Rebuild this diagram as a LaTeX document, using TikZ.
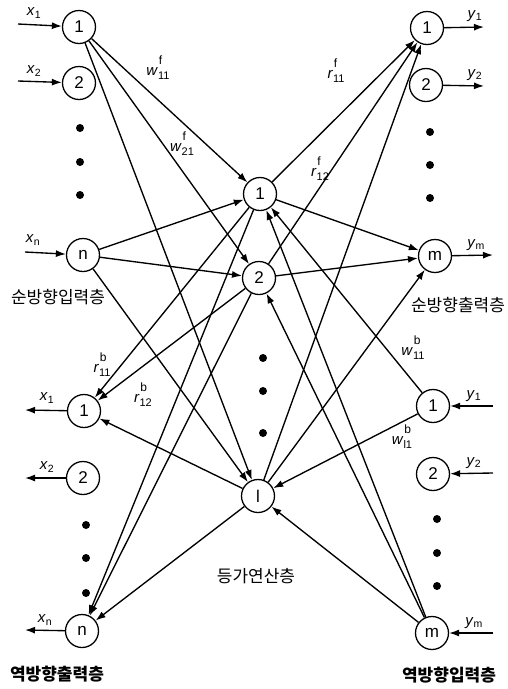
\documentclass[tikz,border=0pt]{standalone}
\usepackage{fontspec}
\setmainfont{Liberation Sans}
\newfontfamily\krfont{Noto Sans CJK KR}
\usetikzlibrary{arrows.meta}
\newcommand\wlab[3]{\textit{#1}\rlap{\raisebox{-0.5ex}{\fontsize{11}{11}\selectfont #2}}\rlap{\raisebox{1.4ex}{\fontsize{12}{12}\selectfont\hspace{0.8pt}#3}}\phantom{\fontsize{11}{11}\selectfont #2}}
\begin{document}
\begin{tikzpicture}[x=1pt,y=-1pt,
  neuron/.style={circle,draw,line width=1.3pt,minimum size=33pt,inner sep=0pt,font=\fontsize{17}{17}\selectfont},
  conn/.style={line width=1.35pt,-{Latex[length=10pt,width=7pt]}},
  iolink/.style={line width=1.35pt,-{Latex[length=10pt,width=7pt]}},
  bigdot/.style={circle,fill,inner sep=0pt,minimum size=8pt},
  varlab/.style={font=\fontsize{15}{15}\selectfont,inner sep=0pt},
  wlabel/.style={font=\fontsize{15}{15}\selectfont,inner sep=0pt},
  layertitle/.style={font=\krfont\fontsize{17}{18}\selectfont,inner sep=0pt},
  boldtitle/.style={font=\krfont\bfseries\fontsize{17}{18}\selectfont,inner sep=0pt}]
\useasboundingbox (0,0) rectangle (507,689);
% forward input layer
\node[neuron] (F1) at (79,27) {1};
\node[neuron] (F2) at (79,83) {2};
\node[neuron] (Fn) at (83,255) {n};
\node[bigdot] (fd1) at (80,128) {};
\node[bigdot] (fd2) at (80,162) {};
\node[bigdot] (fd3) at (80,195) {};
% backward output layer
\node[neuron] (B1) at (84,411) {1};
\node[neuron] (B2) at (83,478) {2};
\node[neuron] (Bn) at (82,631) {n};
\node[bigdot] (bd1) at (86,525) {};
\node[bigdot] (bd2) at (86,558) {};
\node[bigdot] (bd3) at (86,593) {};
% middle layer
\node[neuron] (M1) at (260,194) {1};
\node[neuron] (M2) at (259,278) {2};
\node[neuron] (Ml) at (258,496) {l};
\node[bigdot] (md1) at (263,358) {};
\node[bigdot] (md2) at (263,391) {};
\node[bigdot] (md3) at (263,433) {};
% forward output layer
\node[neuron] (O1) at (427,28) {1};
\node[neuron] (O2) at (426,85) {2};
\node[neuron] (Om) at (435,256) {m};
\node[bigdot] (od1) at (430,132) {};
\node[bigdot] (od2) at (430,165) {};
\node[bigdot] (od3) at (430,198) {};
% backward input layer
\node[neuron] (R1) at (433,406) {1};
\node[neuron] (R2) at (433,474) {2};
\node[neuron] (Rm) at (432,633) {m};
\node[bigdot] (rd1) at (437,519) {};
\node[bigdot] (rd2) at (437,553) {};
\node[bigdot] (rd3) at (437,586) {};
% io arrows
\coordinate (ix1) at (18,24);
\coordinate (ix2) at (18,81);
\coordinate (ixn) at (25,252);
\draw[iolink] (ix1) -- (F1);
\draw[iolink] (ix2) -- (F2);
\draw[iolink] (ixn) -- (Fn);
\coordinate (ox1) at (25,410);
\coordinate (ox2) at (25,478);
\coordinate (oxn) at (25,630);
\draw[iolink] (B1) -- (ox1);
\draw[iolink] (B2) -- (ox2);
\draw[iolink] (Bn) -- (oxn);
\coordinate (oy1) at (484,27);
\coordinate (oy2) at (484,86);
\coordinate (oym) at (493,255);
\draw[iolink] (O1) -- (oy1);
\draw[iolink] (O2) -- (oy2);
\draw[iolink] (Om) -- (oym);
\coordinate (iy1) at (493,406);
\coordinate (iy2) at (493,473);
\coordinate (iym) at (493,633);
\draw[iolink] (iy1) -- (R1);
\draw[iolink] (iy2) -- (R2);
\draw[iolink] (iym) -- (Rm);
% io labels
\node[varlab] (lx1) at (34,13) {\textit{x}\textsubscript{1}};
\node[varlab] (lx2) at (34,71) {\textit{x}\textsubscript{2}};
\node[varlab] (lxn) at (33,240) {\textit{x}\textsubscript{n}};
\node[varlab] (lbx1) at (47,398) {\textit{x}\textsubscript{1}};
\node[varlab] (lbx2) at (47,467) {\textit{x}\textsubscript{2}};
\node[varlab] (lbxn) at (45,620) {\textit{x}\textsubscript{n}};
\node[varlab] (ly1) at (475,16) {\textit{y}\textsubscript{1}};
\node[varlab] (ly2) at (475,75) {\textit{y}\textsubscript{2}};
\node[varlab] (lym) at (476,245) {\textit{y}\textsubscript{m}};
\node[varlab] (lry1) at (474,396) {\textit{y}\textsubscript{1}};
\node[varlab] (lry2) at (474,463) {\textit{y}\textsubscript{2}};
\node[varlab] (lrym) at (474,623) {\textit{y}\textsubscript{m}};
% connections forward
\draw[conn] (F1) -- (M1);
\draw[conn] (F1) -- (M2);
\draw[conn] (F1) -- (Ml);
\draw[conn] (Fn) -- (M1);
\draw[conn] (Fn) -- (M2);
\draw[conn] (Fn) -- (Ml);
\draw[conn] (M1) -- (O1);
\draw[conn] (M2) -- (O1);
\draw[conn] (Ml) -- (O1);
\draw[conn] (M1) -- (Om);
\draw[conn] (M2) -- (Om);
\draw[conn] (Ml) -- (Om);
% connections backward
\draw[conn] (R1) -- (M1);
\draw[conn] (R1) -- (Ml);
\draw[conn] (Rm) -- (M1);
\draw[conn] (Rm) -- (M2);
\draw[conn] (Rm) -- (Ml);
\draw[conn] (M1) -- (B1);
\draw[conn] (M2) -- (B1);
\draw[conn] (Ml) -- (B1);
\draw[conn] (M1) -- (Bn);
\draw[conn] (M2) -- (Bn);
\draw[conn] (Ml) -- (Bn);
% weight labels
\node[wlabel] (w11f) at (158,68) {\wlab{w}{11}{f}};
\node[wlabel] (w21f) at (182,144) {\wlab{w}{21}{f}};
\node[wlabel] (r11f) at (336,71) {\wlab{r}{11}{f}};
\node[wlabel] (r12f) at (320,169) {\wlab{r}{12}{f}};
\node[wlabel] (r11b) at (102,365) {\wlab{r}{11}{b}};
\node[wlabel] (r12b) at (143,395) {\wlab{r}{12}{b}};
\node[wlabel] (w11b) at (413,348) {\wlab{w}{11}{b}};
\node[wlabel] (wl1b) at (402,437) {\wlab{w}{l1}{b}};
% layer titles
\node[layertitle] (t1) at (58,297) {순방향입력층};
\node[layertitle] (t2) at (458,305) {순방향출력층};
\node[layertitle] (t3) at (256,576) {등가연산층};
\node[boldtitle] (t4) at (57,674) {역방향출력층};
\node[boldtitle] (t5) at (449,675) {역방향입력층};
\end{tikzpicture}
\end{document}
